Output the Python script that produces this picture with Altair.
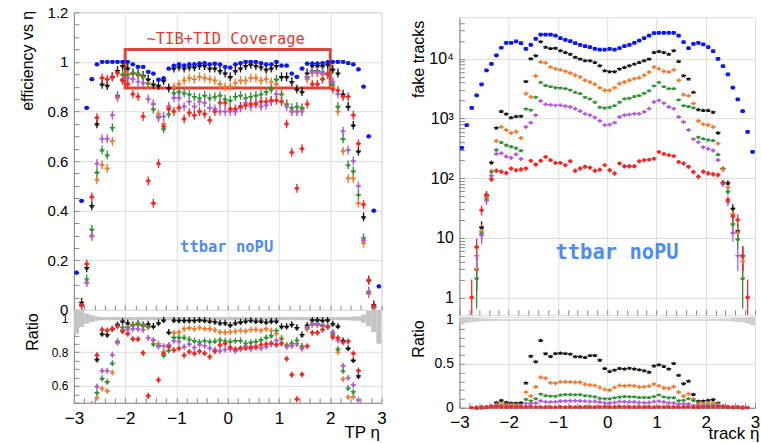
import math
import altair as alt
import pandas as pd

# ---------------- data ----------------
ETA = [-2.95, -2.85, -2.75, -2.65, -2.55, -2.45, -2.35, -2.25, -2.15, -2.05,
       -1.95, -1.85, -1.75, -1.65, -1.55, -1.45, -1.35, -1.25, -1.15, -1.05,
       -0.95, -0.85, -0.75, -0.65, -0.55, -0.45, -0.35, -0.25, -0.15, -0.05,
       0.05, 0.15, 0.25, 0.35, 0.45, 0.55, 0.65, 0.75, 0.85, 0.95,
       1.05, 1.15, 1.25, 1.35, 1.45, 1.55, 1.65, 1.75, 1.85, 1.95,
       2.05, 2.15, 2.25, 2.35, 2.45, 2.55, 2.65, 2.75, 2.85, 2.95]

# efficiency vs TP eta
EFF_BLUE = [0.15, 0.44, 0.815, 0.93, 0.99, 1.0, 1.0, 1.0, 1.0, 1.0,
            1.0, 0.99, 0.98, 0.98, 0.96, 0.953, 0.928, 0.933, 0.973, 0.984,
            0.99, 0.985, 0.99, 0.99, 0.993, 0.995, 0.99, 0.993, 0.99, 0.98,
            0.977, 0.99, 0.995, 1.0, 1.0, 1.0, 0.995, 0.99, 0.99, 1.0,
            0.985, 0.985, 0.953, 0.94, 0.973, 0.993, 0.993, 0.993, 0.995, 0.998,
            1.0, 1.0, 1.0, 0.995, 0.99, 0.97, 0.90, 0.70, 0.40, 0.095]
EFF_BLACK = [None, 0.03, 0.17, 0.42, 0.75, 0.91, 0.905, 0.94, 0.965, 0.985,
             0.975, 0.955, 0.95, 0.945, 0.93, 0.91, 0.905, 0.925, 0.895, 0.975,
             0.98, 0.975, 0.98, 0.98, 0.985, 0.985, 0.975, 0.975, 0.965, 0.955,
             0.94, 0.965, 0.975, 0.985, 0.99, 0.985, 0.98, 0.97, 0.975, 0.985,
             0.94, 0.94, 0.92, 0.89, 0.88, 0.955, 0.985, 0.985, 0.985, 0.99,
             0.97, 0.955, 0.87, 0.82, 0.745, 0.64, 0.375, 0.12, 0.02, None]
EFF_ORANGE = [None, 0.015, 0.11, 0.295, 0.525, 0.585, 0.57, 0.68, 0.855, 0.93,
              0.95, 0.95, 0.95, 0.94, 0.91, 0.83, 0.79, 0.75, 0.82, 0.90,
              0.91, 0.925, 0.935, 0.93, 0.94, 0.935, 0.93, 0.925, 0.91, 0.90,
              0.90, 0.915, 0.925, 0.925, 0.935, 0.935, 0.925, 0.93, 0.92, 0.91,
              0.87, 0.83, 0.80, 0.80, 0.81, 0.93, 0.955, 0.955, 0.95, 0.95,
              0.90, 0.80, 0.64, 0.53, 0.53, 0.43, 0.27, 0.065, 0.01, None]
EFF_GREEN = [None, 0.02, 0.125, 0.325, 0.555, 0.645, 0.625, 0.735, 0.865, 0.95,
             0.95, 0.955, 0.955, 0.94, 0.915, 0.81, 0.78, 0.73, 0.79, 0.875,
             0.88, 0.875, 0.87, 0.86, 0.855, 0.865, 0.855, 0.86, 0.865, 0.85,
             0.845, 0.86, 0.865, 0.855, 0.86, 0.865, 0.87, 0.88, 0.89, 0.93,
             0.87, 0.83, 0.815, 0.82, 0.815, 0.94, 0.965, 0.965, 0.96, 0.955,
             0.91, 0.82, 0.69, 0.585, 0.56, 0.465, 0.29, 0.075, 0.012, None]
EFF_PURPLE = [None, 0.015, 0.11, 0.30, 0.59, 0.69, 0.69, 0.785, 0.86, 0.93,
              0.935, 0.93, 0.92, 0.915, 0.85, 0.83, 0.775, 0.78, 0.82, 0.855,
              0.855, 0.82, 0.84, 0.82, 0.84, 0.835, 0.815, 0.81, 0.80, 0.80,
              0.80, 0.80, 0.815, 0.835, 0.82, 0.835, 0.82, 0.825, 0.84, 0.87,
              0.84, 0.82, 0.80, 0.80, 0.80, 0.94, 0.96, 0.96, 0.955, 0.95,
              0.92, 0.87, 0.72, 0.645, 0.60, 0.50, 0.28, 0.07, 0.01, None]
EFF_RED = [None, 0.02, 0.185, 0.455, 0.775, 0.935, 0.93, 0.94, 0.955, 0.925,
           0.91, 0.87, 0.86, 0.78, 0.52, 0.43, 0.59, 0.74, 0.81, 0.80,
           0.815, 0.77, 0.795, 0.785, 0.80, 0.79, 0.765, 0.80, 0.835, 0.835,
           0.81, 0.81, 0.82, 0.825, 0.83, 0.83, 0.84, 0.84, 0.845, 0.845,
           0.84, 0.75, 0.635, 0.49, 0.65, 0.83, 0.91, 0.91, 0.93, 0.95,
           0.89, 0.885, 0.86, 0.86, 0.785, 0.67, 0.425, 0.12, 0.015, None]
# relative uncertainty band of the reference efficiency (grey band in ratio)
BAND_EFF = [0.09, 0.05, 0.03, 0.02, 0.012, 0.01, 0.01, 0.01, 0.01, 0.01,
            0.01, 0.01, 0.01, 0.01, 0.01, 0.01, 0.01, 0.01, 0.01, 0.01,
            0.01, 0.01, 0.01, 0.01, 0.01, 0.01, 0.01, 0.01, 0.01, 0.01,
            0.01, 0.01, 0.01, 0.01, 0.01, 0.01, 0.01, 0.01, 0.01, 0.01,
            0.01, 0.01, 0.01, 0.01, 0.01, 0.01, 0.01, 0.01, 0.01, 0.01,
            0.01, 0.01, 0.01, 0.01, 0.012, 0.012, 0.025, 0.045, 0.08, 0.15]

# fake tracks vs track eta
FAKE_BLUE = [321, 770, 1500, 2440, 3720, 6380, 8200, 11400, 15300, 18500,
             18500, 19500, 18300, 14700, 17100, 21600, 25500, 25500, 25500, 24500,
             22100, 20800, 19700, 18300, 17100, 16300, 15700, 14700, 14200, 14200,
             14700, 14200, 15100, 16300, 17100, 18500, 20200, 22100, 24500, 26900,
             27200, 27200, 27200, 27200, 24500, 19000, 15100, 17800, 18500, 17400,
             15700, 13400, 10000, 7540, 5470, 3270, 2090, 1320, 595, 275]
FAKE_BLACK = [None, None, None, 3, 15, 53, 183, 700, 1330, 1200,
              1040, 1090, 1100, 4200, 10100, 11400, 19600, 15800, 15000, 15200,
              13800, 12900, 12100, 10700, 10000, 9380, 9380, 8800, 7740, 6380,
              6140, 6140, 6810, 7250, 7740, 8240, 8800, 9380, 10000, 12900,
              13400, 12900, 12100, 13800, 9120, 5270, 4630, 2770, 1420, 1380,
              1380, 1290, 580, 145, 83, 31, 13, 5, None, None]
FAKE_ORANGE = [None, None, None, 3, 13, 49, 130, 420, 720, 640,
               570, 600, 470, 2600, 2290, 5130, 8800, 8560, 7250, 6800,
               6550, 6140, 5760, 5270, 4940, 4340, 4070, 3720, 3270, 2950,
               2950, 3270, 3820, 4070, 4340, 4630, 4810, 5270, 5990, 7250,
               6810, 6140, 5990, 6550, 4340, 2500, 2400, 1780, 900, 800,
               780, 720, 380, 140, 70, 25, 12, 4, None, None]
FAKE_GREEN = [None, None, None, 2.1, 12, 45, 130, 300, 400, 360,
              340, 320, 290, 1460, 1400, 2290, 4070, 3600, 3450, 3300,
              3270, 3200, 3030, 2770, 2640, 2290, 2150, 1890, 1560, 1510,
              1560, 1660, 1890, 2150, 2200, 2360, 2440, 2670, 2950, 3550,
              4070, 3450, 3200, 3200, 2070, 1660, 1600, 1520, 490, 460,
              440, 430, 250, 85, 60, 17, 9.5, 2.1, None, None]
FAKE_PURPLE = [None, None, None, 5, 11, 42, 110, 255, 260, 230,
               220, 250, 210, 720, 850, 1130, 1970, 1720, 1700, 1650,
               1660, 1600, 1560, 1460, 1330, 1200, 1130, 1040, 910, 770,
               790, 850, 1060, 1130, 1160, 1200, 1200, 1290, 1460, 1890,
               2000, 1800, 1560, 1460, 1060, 870, 640, 450, 400, 330,
               310, 290, 200, 80, 40, 12, 5, 5, None, None]
FAKE_RED = [None, None, 1, 7, 29, 52, 96, 133, 128, 122,
            145, 136, 140, 145, 195, 169, 195, 227, 200, 180,
            180, 165, 192, 133, 145, 155, 150, 133, 139, 165,
            136, 120, 176, 158, 158, 158, 192, 200, 204, 212,
            275, 253, 243, 234, 187, 176, 155, 127, 106, 128,
            120, 116, 113, 84, 43, 23, 20, 5, 1, None]

SERIES = ["black", "orange", "green", "purple", "red", "blue"]
COLOR_RANGE = ["#111111", "#ee7d32", "#2f9136", "#b15ad6", "#ee2b26", "#0b16f0"]
SHAPE_RANGE = ["triangle-up", "cross", "triangle-up", "cross", "circle", "square"]
SIZE_RANGE = [18, 14, 28, 14, 36, 32]

EFF = {"black": EFF_BLACK, "orange": EFF_ORANGE, "green": EFF_GREEN,
       "purple": EFF_PURPLE, "red": EFF_RED, "blue": EFF_BLUE}
FAKE = {"black": FAKE_BLACK, "orange": FAKE_ORANGE, "green": FAKE_GREEN,
        "purple": FAKE_PURPLE, "red": FAKE_RED, "blue": FAKE_BLUE}

HALF_BIN = 0.05
EFF_ERR = 0.018   # drawn half height of efficiency error bars
LOG_FLOOR = 0.51  # bottom of the log axis
TICK = 5          # inward tick length (px)

# ---------------- tables ----------------
eff_rows, fake_rows = [], []
for name in SERIES:
    for e, v, b in zip(ETA, EFF[name], EFF_BLUE):
        if v is None:
            continue
        err = 0.008 if name == "blue" else EFF_ERR
        eff_rows.append(dict(series=name, eta=e, x0=e - HALF_BIN, x1=e + HALF_BIN,
                             val=v, lo=v - err, hi=v + err,
                             ratio=v / b, rlo=(v - err) / b, rhi=(v + err) / b))
    for e, v, b in zip(ETA, FAKE[name], FAKE_BLUE):
        if v is None:
            continue
        s = math.sqrt(v)
        fake_rows.append(dict(series=name, eta=e, x0=e - HALF_BIN, x1=e + HALF_BIN,
                              val=v, lo=max(v - s, LOG_FLOOR), hi=v + s,
                              ratio=v / b))
df_eff = pd.DataFrame(eff_rows)
df_fake = pd.DataFrame(fake_rows)
df_eff_r = df_eff[df_eff.series != "blue"]
df_fake_r = df_fake[df_fake.series != "blue"]
df_band_l = pd.DataFrame(dict(x0=[e - HALF_BIN for e in ETA], x1=[e + HALF_BIN for e in ETA],
                              blo=[1 - b for b in BAND_EFF], bhi=[1 + b for b in BAND_EFF]))
df_band_r = pd.DataFrame(dict(x0=[e - HALF_BIN for e in ETA], x1=[e + HALF_BIN for e in ETA],
                              blo=[1 - 1 / math.sqrt(n) for n in FAKE_BLUE],
                              bhi=[1 + 1 / math.sqrt(n) for n in FAKE_BLUE]))
one = pd.DataFrame({"k": [0]})

color = alt.Color("series:N", scale=alt.Scale(domain=SERIES, range=COLOR_RANGE), legend=None)
shape = alt.Shape("series:N", scale=alt.Scale(domain=SERIES, range=SHAPE_RANGE), legend=None)
size = alt.Size("series:N", scale=alt.Scale(domain=SERIES, range=SIZE_RANGE), legend=None)


# ---------------- axis helpers (major grid + inward minor ticks) ----------------
def steps(lo, hi, step):
    n = int(round((hi - lo) / step))
    return [round(lo + i * step, 6) for i in range(n + 1)]


def is_major(major):
    return f"abs(datum.value / {major} - round(datum.value / {major})) < 1e-6"


def grid_cond(test):
    return {"condition": {"test": test, "value": 1}, "value": 0}


LOG_VALS = [m * 10 ** p for p in range(0, 5) for m in range(1, 10) if m * 10 ** p <= 49000]
LOG_MAJOR = "abs(log(datum.value) / LN10 - round(log(datum.value) / LN10)) < 1e-6"

XS = alt.Scale(domain=[-3, 3], nice=False, zero=False)
X_VALS = steps(-3, 3, 0.2)
AX_HIDDEN = alt.Axis(values=X_VALS, labels=False, ticks=True, tickSize={"expr": f"-{TICK}"},
                     domain=False, title=None, grid=True, gridOpacity=grid_cond(is_major(1)))


def ax_bottom(title, tx, ty, pad):
    return alt.Axis(values=X_VALS, grid=True, gridOpacity=grid_cond(is_major(1)),
                    ticks=True, tickSize={"expr": f"-{TICK}"}, format="~g",
                    labelExpr=f"{is_major(1)} ? datum.label : ''", labelOverlap=False,
                    labelFlush=False, labelFontSize=17, labelPadding=pad + TICK + 7,
                    title=title, titleX=tx, titleY=ty, titleAlign="right",
                    titleBaseline="middle", titleFontSize=17, titleFontWeight="normal")


def ax_left(values, major_test, title, tx, ty, lfs, fmt=None, expr=None):
    kw = dict(values=values, grid=True, gridOpacity=grid_cond(major_test),
              ticks=True, tickSize={"expr": f"-{TICK}"}, labelOverlap=False,
              labelFontSize=lfs, labelPadding=6 + TICK, title=title,
              titleX=tx, titleY=ty, titleAlign="right", titleAngle=270,
              titleBaseline="middle", titleFontSize=16, titleFontWeight="normal")
    if fmt:
        kw["format"] = fmt
    kw["labelExpr"] = expr if expr else f"{major_test} ? datum.label : ''"
    return alt.Axis(**kw)


def series_layers(df, ycol, lo, hi, xax, ys, yax, clip=True):
    base = alt.Chart(df)
    x = alt.X("eta:Q", scale=XS, axis=xax)
    y = alt.Y(f"{ycol}:Q", scale=ys, axis=yax)
    hbar = base.mark_rule(clip=clip, strokeWidth=1.3).encode(
        x=alt.X("x0:Q", scale=XS, axis=xax), x2="x1:Q", y=y, color=color)
    layers = [hbar]
    if lo is not None:
        layers.append(base.mark_rule(clip=clip, strokeWidth=1.3).encode(
            x=x, y=alt.Y(f"{lo}:Q", scale=ys, axis=yax), y2=f"{hi}:Q", color=color))
    layers.append(base.mark_point(filled=True, clip=clip, opacity=1).encode(
        x=x, y=y, color=color, shape=shape, size=size))
    return layers


# ---------------- left: efficiency ----------------
YS_EFF = alt.Scale(domain=[0, 1.2], nice=False, zero=False)
AY_EFF = ax_left(steps(0, 1.2, 0.05), is_major(0.2), "efficiency vs η", -46, -2, 15, fmt="~g")
box = alt.Chart(one).mark_rect(fillOpacity=0, stroke="#d9473a", strokeWidth=3).encode(
    x=alt.X(datum=-2, scale=XS, axis=AX_HIDDEN), x2=alt.datum(2),
    y=alt.Y(datum=0.895, scale=YS_EFF, axis=AY_EFF), y2=alt.datum(1.05))
cov_text = alt.Chart(one).mark_text(text="~TIB+TID Coverage", font="DejaVu Sans Mono",
                                    fontSize=15.5, color="#e03c31").encode(
    x=alt.X(datum=-0.04, scale=XS, axis=AX_HIDDEN), y=alt.Y(datum=1.091, scale=YS_EFF, axis=AY_EFF))
tt_left = alt.Chart(one).mark_text(text="ttbar noPU", font="DejaVu Sans Mono", fontWeight="bold",
                                   fontSize=15.5, color="#4d8df0").encode(
    x=alt.X(datum=-0.02, scale=XS, axis=AX_HIDDEN), y=alt.Y(datum=0.254, scale=YS_EFF, axis=AY_EFF))
left_main = alt.layer(
    box, *series_layers(df_eff, "val", "lo", "hi", AX_HIDDEN, YS_EFF, AY_EFF), cov_text, tt_left
).properties(width=308, height=298)

YS_RL = alt.Scale(domain=[0.5, 1.052], nice=False, zero=False)
AY_RL = ax_left(steps(0.5, 1.05, 0.05), is_major(0.2), "Ratio", -41.5, 3, 12, fmt="~g")
AX_RL = ax_bottom("TP η", 306, 30, 1)
band_l = alt.Chart(df_band_l).mark_rect(clip=True, color="#c4c4c4").encode(
    x=alt.X("x0:Q", scale=XS, axis=AX_RL), x2="x1:Q",
    y=alt.Y("blo:Q", scale=YS_RL, axis=AY_RL), y2="bhi:Q")
left_ratio = alt.layer(
    band_l, *series_layers(df_eff_r, "ratio", "rlo", "rhi", AX_RL, YS_RL, AY_RL)
).properties(width=308, height=93)

# ---------------- right: fake tracks ----------------
YS_FAKE = alt.Scale(type="log", domain=[LOG_FLOOR, 49600], nice=False)
POW = (f"!({LOG_MAJOR}) ? '' : datum.value >= 9999 ? '10⁴' : datum.value >= 999 ? '10³' : "
       "datum.value >= 99 ? '10²' : datum.value >= 9 ? '10' : '1'")
AY_FAKE = ax_left(LOG_VALS, LOG_MAJOR, "fake tracks", -41, 3, 16, expr=POW)
tt_right = alt.Chart(one).mark_text(text="ttbar noPU", font="DejaVu Sans Mono", fontWeight="bold",
                                    fontSize=20.5, color="#4d8df0").encode(
    x=alt.X(datum=0.2, scale=XS, axis=AX_HIDDEN), y=alt.Y(datum=5.6, scale=YS_FAKE, axis=AY_FAKE))
right_main = alt.layer(
    *series_layers(df_fake, "val", "lo", "hi", AX_HIDDEN, YS_FAKE, AY_FAKE), tt_right
).properties(width=296, height=298)

YS_RR = alt.Scale(domain=[0, 1.034], nice=False, zero=False)
AY_RR = ax_left(steps(0, 1.0, 0.1), is_major(0.5), "Ratio", -41, 3, 14, fmt="~g")
AX_RR = ax_bottom("track η", 300, 26, 0)
band_r = alt.Chart(df_band_r).mark_rect(clip=True, color="#cfcfcf").encode(
    x=alt.X("x0:Q", scale=XS, axis=AX_RR), x2="x1:Q",
    y=alt.Y("blo:Q", scale=YS_RR, axis=AY_RR), y2="bhi:Q")
right_ratio = alt.layer(
    band_r, *series_layers(df_fake_r, "ratio", None, None, AX_RR, YS_RR, AY_RR, clip=False)
).properties(width=296, height=91)

spacer = alt.Chart(one).mark_point(opacity=0).encode(
    x=alt.X("k:Q", axis=None), y=alt.Y("k:Q", axis=None)
).properties(width=296, height=3, view=alt.ViewBackground(stroke=None))

left_col = alt.vconcat(left_main, left_ratio, spacing=0, bounds="flush")
right_col = alt.vconcat(spacer, right_main, right_ratio, spacing=2, bounds="flush")

chart = alt.hconcat(left_col, right_col, spacing=22).properties(
    padding={"left": 19, "top": 4, "right": 0, "bottom": 0}
).configure_view(stroke="#7a7a7a", strokeWidth=1).configure_axis(
    labelFont="Liberation Sans", titleFont="Liberation Sans", labelColor="#222222",
    titleColor="#222222", gridColor="#9a9a9a", gridDash=[1.5, 1.5], gridWidth=1,
    tickColor="#444444", tickWidth=1,
    domain=False, labelFlush=False, labelOverlap=False, titleFontWeight="normal"
).configure(background="white")

chart.save("out.html", embed_options={"renderer": "svg", "actions": False})
